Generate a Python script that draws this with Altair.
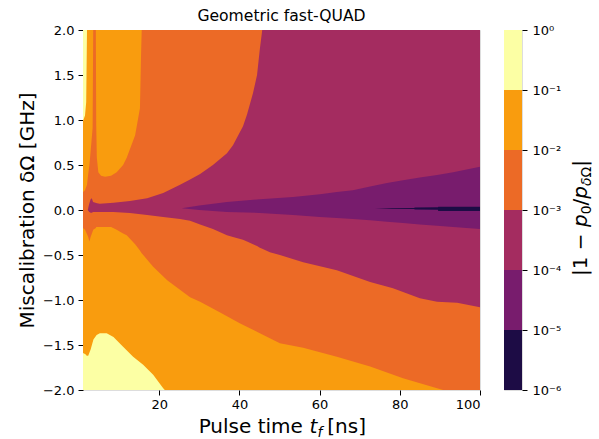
import altair as alt
import pandas as pd

FONT = "DejaVu Sans"

# ---------------------------------------------------------------------------
# Filled contour bands of |1 - p0/p_dOmega| over pulse time t_f (ns) and
# miscalibration dOmega (GHz).  Each band lists (t_f, upper edge, lower edge)
# of the region where the error is below that band's upper level.
# ---------------------------------------------------------------------------
band_full = [(1.0, 2.0, -2.0), (100.0, 2.0, -2.0)]  # 1e0 .. 1e-1

band_1e1 = [  # below 1e-1
    (1.0, 0.99, -1.59), (1.5, 1.05, -1.60), (1.8, 1.20, -1.61), (1.9, 1.60, -1.62),
    (2.0, 2.0, -1.62), (2.3, 2.0, -1.62), (2.9, 2.0, -1.55), (3.6, 2.0, -1.44),
    (4.4, 2.0, -1.39), (5.2, 2.0, -1.37), (6.9, 2.0, -1.37), (8.6, 2.0, -1.41),
    (11.0, 2.0, -1.52), (13.5, 2.0, -1.63), (16.0, 2.0, -1.72), (18.5, 2.0, -1.83),
    (21.0, 2.0, -1.98), (21.4, 2.0, -2.0), (100.0, 2.0, -2.0),
]

band_1e2 = [  # below 1e-2
    (1.0, 0.20, -0.20), (1.5, 0.22, -0.22), (2.0, 0.28, -0.27), (2.3, 0.40, -0.30),
    (2.6, 0.50, -0.35), (2.9, 0.65, -0.30), (3.4, 0.91, -0.24), (3.55, 2.0, -0.22),
    (4.2, 2.0, -0.20), (4.3, 0.94, -0.19), (4.45, 0.58, -0.19), (4.82, 0.42, -0.19),
    (5.5, 0.38, -0.19), (6.5, 0.37, -0.19), (8.0, 0.38, -0.19), (9.4, 0.42, -0.22),
    (11.0, 0.50, -0.26), (11.9, 0.58, -0.28), (14.0, 0.83, -0.38), (15.2, 1.13, -0.45),
    (15.46, 1.69, -0.47), (15.64, 2.0, -0.48), (18.5, 2.0, -0.63), (22.0, 2.0, -0.78),
    (27.7, 2.0, -0.97), (30.2, 2.0, -1.02), (35.2, 2.0, -1.14), (40.2, 2.0, -1.26),
    (45.1, 2.0, -1.37), (50.1, 2.0, -1.48), (55.9, 2.0, -1.53), (64.3, 2.0, -1.63),
    (72.6, 2.0, -1.74), (80.8, 2.0, -1.87), (89.3, 2.0, -1.98), (90.8, 2.0, -2.0),
    (100.0, 2.0, -2.0),
]

band_1e3 = [  # below 1e-3
    (2.2, 0.0, 0.0), (2.5, 0.06, -0.02), (2.9, 0.12, -0.03), (3.2, 0.13, -0.03),
    (3.5, 0.09, -0.022), (4.5, 0.075, -0.022), (5.2, 0.07, -0.022), (8.6, 0.08, -0.022),
    (12.7, 0.10, -0.033), (17.0, 0.13, -0.056), (21.0, 0.19, -0.078), (25.2, 0.28, -0.10),
    (27.7, 0.34, -0.12), (30.2, 0.40, -0.16), (33.4, 0.50, -0.21), (36.9, 0.63, -0.28),
    (38.4, 0.72, -0.30), (40.9, 0.93, -0.33), (41.9, 1.06, -0.35), (43.4, 1.30, -0.38),
    (44.4, 1.50, -0.40), (45.1, 1.79, -0.42), (45.7, 2.0, -0.43), (47.6, 2.0, -0.47),
    (50.1, 2.0, -0.50), (55.9, 2.0, -0.58), (64.3, 2.0, -0.67), (72.6, 2.0, -0.80),
    (78.3, 2.0, -0.87), (85.0, 2.0, -0.98), (89.3, 2.0, -1.02), (94.3, 2.0, -1.03),
    (100.0, 2.0, -1.08),
]

band_1e4 = [  # below 1e-4
    (25.6, 0.019, 0.019), (30.0, 0.05, 0.0), (36.9, 0.09, -0.022), (45.1, 0.12, -0.033),
    (53.4, 0.145, -0.056), (60.1, 0.175, -0.078), (64.3, 0.20, -0.09), (68.3, 0.22, -0.10),
    (72.6, 0.26, -0.115), (76.8, 0.30, -0.13), (80.8, 0.33, -0.145), (85.0, 0.36, -0.16),
    (89.3, 0.39, -0.175), (93.3, 0.42, -0.19), (100.0, 0.48, -0.21),
]

band_1e5 = [  # below 1e-5
    (73.8, 0.019, 0.019), (78.0, 0.021, 0.014), (83.5, 0.022, 0.010), (83.8, 0.028, 0.006),
    (89.5, 0.030, 0.004), (89.6, 0.036, -0.011), (100.0, 0.036, -0.011),
]

band_colors = ["#fcffa4", "#f99c0e", "#ec6a26", "#a42c60", "#781c6d", "#1d0c45"]
bands = [band_full, band_1e1, band_1e2, band_1e3, band_1e4, band_1e5]

# colour bar: one cell per decade
level_hi = [1e0, 1e-1, 1e-2, 1e-3, 1e-4, 1e-5]
level_lo = [1e-1, 1e-2, 1e-3, 1e-4, 1e-5, 1e-6]
level_ticks = [1e0, 1e-1, 1e-2, 1e-3, 1e-4, 1e-5, 1e-6]
level_tick_text = ["10⁰", "10⁻¹", "10⁻²", "10⁻³", "10⁻⁴", "10⁻⁵", "10⁻⁶"]

x_ticks = [20, 40, 60, 80, 100]
y_ticks = [-2.0, -1.5, -1.0, -0.5, 0.0, 0.5, 1.0, 1.5, 2.0]

PLOT_W, PLOT_H = 397, 360
BAR_W = 18
NBSP = "\u00a0"

# DejaVu Sans advance widths (1/1000 em), used to lay out the math-style labels
ADV = {" ": 318, NBSP: 318, "P": 603, "u": 634, "l": 278, "s": 521, "e": 615,
       "t": 392, "i": 278, "m": 974, "[": 390, "n": 634, "]": 390, "|": 337,
       "1": 636, "−": 838, "p": 635, "0": 636, "/": 337, "δ": 612, "Ω": 764,
       "f": 352}


def text_width(s, size):
    return sum(ADV.get(c, 600) for c in s) * size / 1000.0


def piece(text, x, y, size, italic=False, angle=0):
    props = dict(font=FONT, fontSize=size, align="left", baseline="alphabetic",
                 color="black", fontStyle="italic" if italic else "normal")
    if angle:
        props["angle"] = angle
    return alt.Chart(pd.DataFrame({"label": [text]})).mark_text(**props).encode(
        x=alt.value(x), y=alt.value(y), text="label:N")


x_axis = alt.Axis(values=x_ticks, format="d", title=None, grid=False, domain=False,
                  tickSize=5, tickColor="black", labelColor="black", labelFont=FONT,
                  labelFontSize=13, labelPadding=3)
y_axis = alt.Axis(values=y_ticks, format=".1f", title="Miscalibration δΩ [GHz]",
                  grid=False, domain=False, tickSize=5, tickColor="black",
                  labelColor="black", labelFont=FONT, labelFontSize=13, labelPadding=4,
                  titleFont=FONT, titleFontSize=20, titleFontWeight="normal",
                  titleColor="black", titlePadding=5)
x_scale = alt.Scale(domain=[1, 100], nice=False, zero=False)
y_scale = alt.Scale(domain=[-2, 2], nice=False, zero=False)

layers = []
for rows, col in zip(bands, band_colors):
    df = pd.DataFrame(rows, columns=["t", "hi", "lo"])
    layers.append(
        alt.Chart(df).mark_area(color=col, clip=True, interpolate="linear",
                                strokeWidth=0, opacity=1).encode(
            x=alt.X("t:Q", scale=x_scale, axis=x_axis),
            y=alt.Y("hi:Q", scale=y_scale, axis=y_axis),
            y2="lo:Q",
        )
    )

# x-axis title: "Pulse time t_f [ns]" with italic t and subscript f
TS, SS = 20, 14
parts = [("Pulse" + NBSP + "time" + NBSP, TS, False, 0, 0), ("t", TS, True, 0, 0),
         ("f", SS, True, 4, 5), (NBSP + "[ns]", TS, False, 0, 0)]
total = sum(text_width(p[0], p[1]) + p[4] for p in parts)
cx, base_y = PLOT_W / 2 + 4, PLOT_H + 43
pos = cx - total / 2
for txt, sz, it, dy, gap in parts:
    layers.append(piece(txt, pos, base_y + dy, sz, it))
    pos += text_width(txt, sz) + gap

main = alt.layer(*layers).properties(
    width=PLOT_W, height=PLOT_H,
    title=alt.TitleParams("Geometric fast-QUAD", font=FONT, fontSize=15.6,
                          fontWeight="normal", color="black", anchor="middle",
                          offset=-1),
)

# colour bar
bar_df = pd.DataFrame({"hi": level_hi, "lo": level_lo, "c": band_colors})
label_expr = "'10' + " + str([s[2:] for s in level_tick_text]).replace('"', "'") + \
    "[round(-log(datum.value) / LN10)]"
bar = alt.Chart(bar_df).mark_rect().encode(
    x=alt.value(0), x2=alt.value(BAR_W),
    y=alt.Y("lo:Q", scale=alt.Scale(type="log", domain=[1e-6, 1], nice=False),
            axis=alt.Axis(orient="right", values=level_ticks, labelExpr=label_expr,
                          title=None, grid=False, domain=False, tickSize=5,
                          tickColor="black", labelColor="black", labelFont=FONT,
                          labelFontSize=13, labelPadding=5)),
    y2="hi:Q",
    color=alt.Color("c:N", scale=None),
)

# colour bar title: |1 − p_0 / p_δΩ| reading upward
cparts = [("|1" + NBSP + "−" + NBSP, TS, False, 0), ("p", TS, True, 0),
          ("0", SS, False, 4), ("/", TS, False, 0), ("p", TS, True, 0),
          ("δ", SS, True, 4), ("Ω", SS, False, 4), ("|", TS, False, 0)]
ctotal = sum(text_width(p[0], p[1]) for p in cparts)
bx, cy = 83, PLOT_H / 2 + 8
pos = cy + ctotal / 2
clayers = [bar]
for txt, sz, it, dx in cparts:
    clayers.append(piece(txt, bx + dx, pos, sz, it, angle=270))
    pos -= text_width(txt, sz)

cbar = alt.layer(*clayers).properties(width=BAR_W, height=PLOT_H)

chart = alt.hconcat(main, cbar, spacing=24, bounds="flush").properties(
    padding={"left": 16, "top": 8, "right": 2, "bottom": 0},
).configure_view(stroke="black", strokeWidth=1).configure(background="white")

chart.save("out.html", embed_options={"renderer": "svg", "actions": False})
